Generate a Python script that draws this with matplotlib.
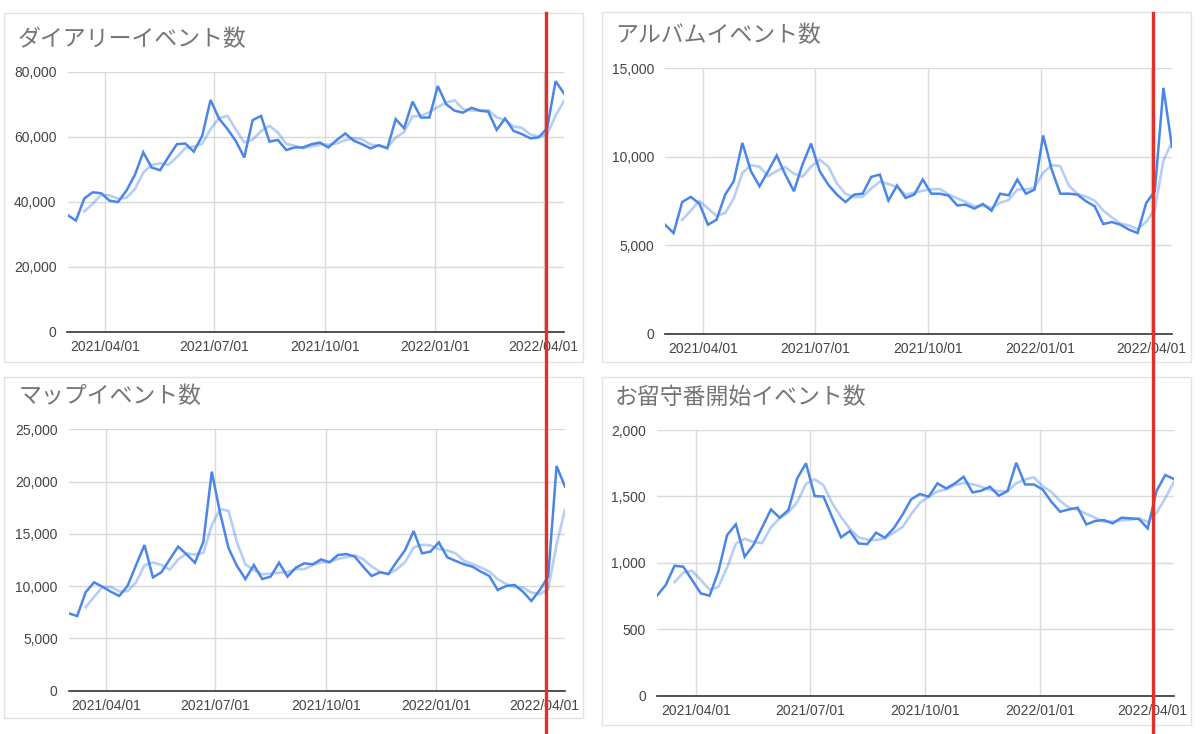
import matplotlib
matplotlib.use("Agg")
import matplotlib.pyplot as plt
import matplotlib.dates as mdates
from matplotlib.lines import Line2D
from matplotlib.patches import Rectangle
from matplotlib.ticker import FuncFormatter, FixedLocator
import pandas as pd

# ---------------- data ----------------
start_date = "2021-03-01"
n_weeks = 60
dates = pd.date_range(start_date, periods=n_weeks, freq="7D")

x_ticks = ["2021-04-01", "2021-07-01", "2021-10-01", "2022-01-01", "2022-04-01"]
x_tick_labels = ["2021/04/01", "2021/07/01", "2021/10/01", "2022/01/01", "2022/04/01"]

titles = ["ダイアリーイベント数", "アルバムイベント数", "マップイベント数", "お留守番開始イベント数"]

diary = [35900, 34200, 41000, 42900, 42600, 40300, 39900, 43400, 48200, 55200,
         50500, 49700, 53800, 57700, 57900, 55400, 60200, 71300, 65600, 62400,
         58700, 53600, 65100, 66400, 58500, 59000, 55900, 56700, 56700, 57700,
         58200, 56700, 59000, 61000, 58800, 57700, 56400, 57400, 56400, 65400,
         62600, 70800, 65900, 65900, 75600, 70000, 68000, 67400, 68900, 68000,
         67700, 62100, 65600, 61800, 60800, 59500, 59800, 62600, 77100, 73300]

album = [6170, 5700, 7450, 7740, 7360, 6170, 6450, 7870, 8620, 10790,
         9190, 8340, 9190, 10080, 9000, 8060, 9570, 10750, 9190, 8430,
         7870, 7450, 7870, 7920, 8870, 9000, 7530, 8380, 7680, 7870,
         8720, 7920, 7920, 7810, 7260, 7300, 7080, 7340, 6960, 7920,
         7830, 8720, 7920, 8150, 11210, 9280, 7920, 7920, 7870, 7490,
         7210, 6210, 6320, 6170, 5890, 5700, 7400, 8060, 13900, 10570]

mapev = [7400, 7140, 9410, 10360, 9950, 9470, 9060, 10040, 12020, 13930,
         10840, 11320, 12560, 13780, 13040, 12240, 14250, 20950, 16960, 13620,
         11930, 10680, 12020, 10680, 10910, 12240, 10910, 11770, 12180, 12090,
         12560, 12280, 12980, 13070, 12820, 11860, 10970, 11320, 11160, 12340,
         13460, 15270, 13140, 13300, 14190, 12760, 12410, 12090, 11860, 11380,
         10970, 9630, 10010, 10110, 9470, 8580, 9630, 10910, 21490, 19520]

rusuban = [753, 833, 978, 971, 871, 770, 753, 933, 1209, 1290,
           1046, 1134, 1267, 1402, 1340, 1397, 1636, 1749, 1503, 1499,
           1342, 1192, 1239, 1146, 1141, 1227, 1189, 1259, 1360, 1478,
           1518, 1498, 1598, 1560, 1598, 1648, 1530, 1543, 1573, 1505,
           1540, 1753, 1590, 1590, 1553, 1460, 1385, 1402, 1415, 1289,
           1315, 1322, 1297, 1340, 1335, 1330, 1259, 1540, 1661, 1631]

series = [diary, album, mapev, rusuban]
y_maxes = [80000, 15000, 25000, 2000]
y_steps = [20000, 5000, 5000, 500]
trend_window = 3  # moving-average trendline period

# ---------------- layout (pixels) ----------------
W, H = 1200, 734
# axes boxes: (left, top, right, bottom) in px
axes_px = [(67.5, 71.7, 564.0, 331.7),
           (665.0, 68.3, 1172.0, 334.0),
           (68.8, 429.3, 565.0, 690.7),
           (657.0, 430.0, 1174.0, 695.7)]
panels_px = [(4, 13, 583, 362), (602, 12, 1191, 362),
             (4, 377, 583, 718), (602, 377, 1191, 725)]
title_px = [(18, 40), (615, 36), (19, 397), (615, 397)]

MAIN = "#4a86e8"
TREND = (0.29, 0.525, 0.91, 0.40)
GRID = "#dadada"
AXIS = "#333333"
TICK = "#444444"
TITLE = "#757575"
RED = "#e3312a"

fig = plt.figure(figsize=(W / 100, H / 100), dpi=100)
fig.patch.set_facecolor("white")

def fx(x):
    return x / W

def fy(y):
    return 1 - y / H

# panel borders
for (l, t, r, b) in panels_px:
    fig.add_artist(Rectangle((fx(l), fy(b)), fx(r) - fx(l), fy(t) - fy(b),
                             transform=fig.transFigure, fill=False,
                             edgecolor="#e3e3e3", linewidth=1.0, zorder=0))

fmt = FuncFormatter(lambda v, p: f"{int(v):,}")
tick_dates = pd.to_datetime(x_ticks)

for i, vals in enumerate(series):
    l, t, r, b = axes_px[i]
    ax = fig.add_axes([fx(l), fy(b), fx(r) - fx(l), fy(t) - fy(b)])
    s = pd.Series(vals, index=dates)
    trend = s.rolling(trend_window).mean()
    ax.plot(dates, trend.values, color=TREND, linewidth=1.9, zorder=2,
            solid_joinstyle="round")
    ax.plot(dates, s.values, color=MAIN, linewidth=1.8, zorder=3,
            solid_joinstyle="miter")
    ax.set_xlim(dates[0], dates[-1])
    ax.set_ylim(0, y_maxes[i])
    ax.yaxis.set_major_locator(FixedLocator(list(range(0, y_maxes[i] + 1, y_steps[i]))))
    ax.yaxis.set_major_formatter(fmt)
    ax.set_xticks(mdates.date2num(tick_dates))
    ax.set_xticklabels(x_tick_labels)
    for sp in ["top", "right", "left"]:
        ax.spines[sp].set_visible(False)
    ax.spines["bottom"].set_color(AXIS)
    ax.spines["bottom"].set_linewidth(1.2)
    ax.spines["bottom"].set_zorder(4)
    ax.grid(True, color=GRID, linewidth=1.0, zorder=0)
    ax.set_axisbelow(True)
    ax.tick_params(axis="both", length=0, labelsize=10, labelcolor=TICK)
    ax.tick_params(axis="y", pad=8)
    ax.tick_params(axis="x", pad=6)
    for lab in ax.get_xticklabels() + ax.get_yticklabels():
        lab.set_family(["Liberation Sans", "DejaVu Sans"])
    ax.patch.set_alpha(0)

    tx, ty = title_px[i]
    fig.text(fx(tx), fy(ty), titles[i], ha="left", va="center", fontsize=16.5,
             color=TITLE, family=["Noto Sans CJK JP", "DejaVu Sans"])

# red vertical marker lines (screenshot annotation)
for xr in (546.0, 1153.3):
    fig.add_artist(Line2D([fx(xr), fx(xr)], [fy(13), fy(734)],
                          transform=fig.transFigure, color=RED, linewidth=2.4,
                          zorder=10))

fig.savefig("out.png", dpi=100, facecolor="white")
